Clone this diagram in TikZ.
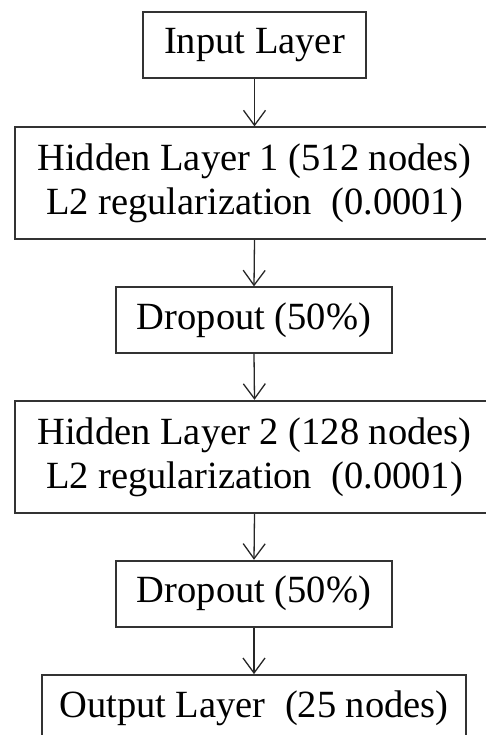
\documentclass[tikz,border=0pt]{standalone}
\usepackage{fontspec}
\setmainfont{Liberation Serif}
\usetikzlibrary{arrows.meta}
\begin{document}
\begin{tikzpicture}[x=1pt,y=1pt,
  layerbox/.style={draw=black!80, line width=1.8pt, fill=white, inner sep=0pt,
    align=center, font=\fontsize{38.5}{44}\selectfont},
  flow/.style={draw=black!85, line width=1.3pt, -{Straight Barb[length=15pt,width=22pt,line width=1.3pt]}}]
\useasboundingbox (0,0) rectangle (486,-735);
\node[layerbox, minimum width=223pt, minimum height=66pt] (in) at (254.5,-44.7) {Input Layer};
\node[layerbox, minimum width=479pt, minimum height=112pt] (h1) at (254.5,-183.3) {Hidden Layer 1 (512 nodes)\\L2 regularization\ \ (0.0001)};
\node[layerbox, minimum width=276pt, minimum height=65.4pt] (d1) at (254,-320) {Dropout (50\%)};
\node[layerbox, minimum width=479pt, minimum height=112.6pt] (h2) at (254.5,-457) {Hidden Layer 2 (128 nodes)\\L2 regularization\ \ (0.0001)};
\node[layerbox, minimum width=276pt, minimum height=66pt] (d2) at (254,-593.7) {Dropout (50\%)};
\node[layerbox, minimum width=424pt, minimum height=66pt] (out) at (254,-708) {Output Layer\ \ (25 nodes)};
\draw[flow] (in.south) -- (h1.north);
\draw[flow] (h1.south) -- (d1.north);
\draw[flow] (d1.south) -- (h2.north);
\draw[flow] (h2.south) -- (d2.north);
\draw[flow] (d2.south) -- (out.north);
\end{tikzpicture}
\end{document}
